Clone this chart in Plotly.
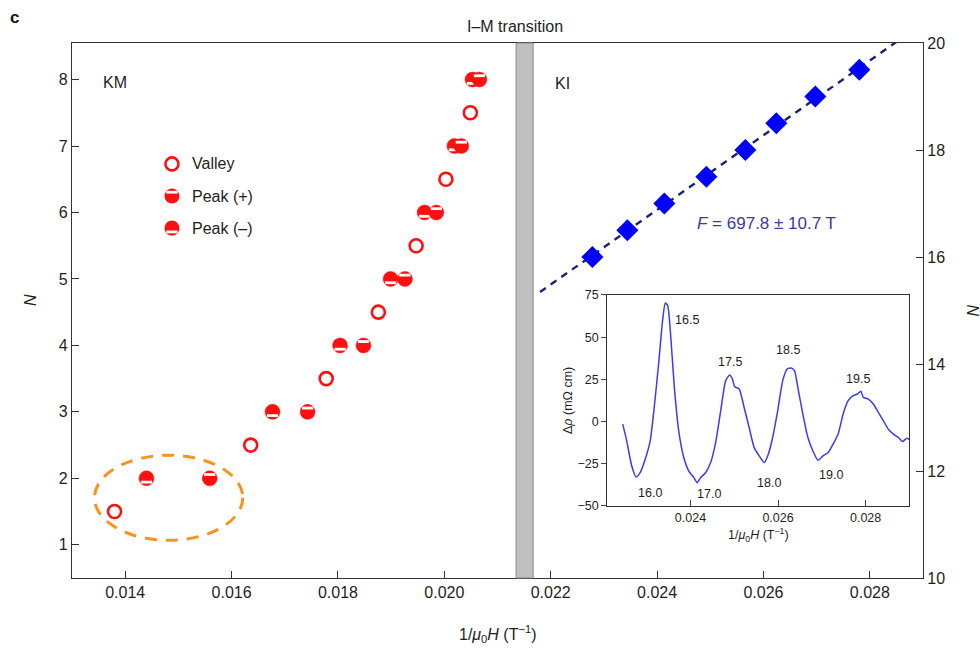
import numpy as np
import plotly.graph_objects as go

# ---- KM regime: Landau index N versus 1/mu0H ----
valley_x = [0.01380, 0.01636, 0.01778, 0.01876, 0.01947, 0.02003, 0.02049]
valley_n = [1.5, 2.5, 3.5, 4.5, 5.5, 6.5, 7.5]
peak_minus_x = [0.01440, 0.01677, 0.01804, 0.01899, 0.01963, 0.02019, 0.02053]
peak_minus_n = [2, 3, 4, 5, 6, 7, 8]
peak_plus_x = [0.01559, 0.01743, 0.01848, 0.01926, 0.01985, 0.02032, 0.02066]
peak_plus_n = [2, 3, 4, 5, 6, 7, 8]

# ---- KI regime ----
ki_x = [0.022784, 0.023442, 0.024137, 0.024927, 0.025660, 0.026242, 0.026976, 0.027803]
ki_n = [16, 16.5, 17, 17.5, 18, 18.5, 19, 19.5]
fit_F = 697.8
fit_F_err = 10.7
fit_x = [0.0218, 0.0290]

# ---- inset: oscillatory resistivity ----
osc_x = [0.022452, 0.022544, 0.022659, 0.022759, 0.022850, 0.022966, 0.023080, 0.023172,
         0.023272, 0.023364, 0.023425, 0.023479, 0.023556, 0.023632, 0.023732, 0.023847,
         0.023962, 0.024077, 0.024153, 0.024230, 0.024345, 0.024460, 0.024575, 0.024690,
         0.024805, 0.024897, 0.024958, 0.025011, 0.025111, 0.025226, 0.025340, 0.025456,
         0.025570, 0.025686, 0.025778, 0.025877, 0.025992, 0.026107, 0.026207, 0.026299,
         0.026375, 0.026452, 0.026567, 0.026682, 0.026797, 0.026912, 0.027027, 0.027142,
         0.027257, 0.027372, 0.027487, 0.027602, 0.027716, 0.027816, 0.027893, 0.027946,
         0.028061, 0.028176, 0.028291, 0.028406, 0.028520, 0.028636, 0.028750, 0.028843,
         0.028943, 0.029042]
osc_y = [-1.6, -11.5, -26.4, -32.9, -30.4, -22.4, -11.5, 8.3,
         34.1, 59.9, 70.2, 68.8, 48.0, 20.2, -5.6, -21.4,
         -29.4, -33.3, -36.3, -33.3, -30.4, -24.4, -12.5, 6.3,
         24.2, 27.6, 25.2, 20.6, 19.2, 8.3, -3.6, -15.5,
         -20.4, -24.4, -19.4, -9.5, 6.3, 24.2, 31.1, 31.7,
         30.2, 20.2, 4.4, -9.5, -17.5, -23.0, -20.4, -18.5,
         -13.5, -7.5, 4.4, 12.3, 15.3, 16.3, 17.9, 14.3,
         13.3, 10.3, 5.4, 0.4, -4.6, -7.5, -9.5, -11.9,
         -9.9, -11.5]
osc_labels = ["16.5", "17.5", "18.5", "19.5", "16.0", "17.0", "18.0", "19.0"]
osc_label_x = [0.02392, 0.02490, 0.02622, 0.02783, 0.02308, 0.02442, 0.02580, 0.02722]
osc_label_y = [59.9, 35.5, 42.1, 25.2, -42.3, -42.9, -36.3, -31.7]

# ---- axes ----
X_RANGE = [0.013, 0.029]
N_RANGE = [0.5, 8.55]
N2_RANGE = [10, 20]
x_ticks = [0.014, 0.016, 0.018, 0.020, 0.022, 0.024, 0.026, 0.028]

W, H = 980, 649
M = dict(l=72, r=57, t=43, b=71)
plot_h = H - M["t"] - M["b"]
n_per_px = (N_RANGE[1] - N_RANGE[0]) / plot_h

FONT = "Liberation Sans, Arial, Helvetica, sans-serif"
INK = "#1e1e1e"
RED = "#ff1010"
BLUE = "#0000ff"
SLIVER_PX = 3.8

fig = go.Figure()

# valley: open circles
fig.add_trace(go.Scatter(
    x=valley_x, y=valley_n, mode="markers", name="Valley",
    marker=dict(symbol="circle-open", size=13, color=RED, line=dict(width=2.6, color=RED)),
    showlegend=False))


def peak_trace(xs, ns, sign):
    """Filled circle with a small white crescent above (+) or below (-) the centre."""
    fig.add_trace(go.Scatter(
        x=xs, y=ns, mode="markers",
        marker=dict(symbol="circle", size=15, color=RED, line=dict(width=0.5, color=RED)),
        showlegend=False))
    fig.add_trace(go.Scatter(
        x=xs, y=[n + sign * SLIVER_PX * n_per_px for n in ns], mode="markers",
        marker=dict(symbol="line-ew", size=8, line=dict(width=2.8, color="white")),
        showlegend=False))


peak_trace(peak_minus_x, peak_minus_n, -1)
peak_trace(peak_plus_x, peak_plus_n, +1)

# KI: linear fit and data
ki_b = float(np.mean(np.array(ki_n) - fit_F * np.array(ki_x)))
fig.add_trace(go.Scatter(
    x=fit_x, y=[fit_F * v + ki_b for v in fit_x], mode="lines", yaxis="y2",
    line=dict(color="#1f1f7a", width=2.4, dash="7px,6px"), showlegend=False))
fig.add_trace(go.Scatter(
    x=ki_x, y=ki_n, mode="markers", yaxis="y2",
    marker=dict(symbol="diamond", size=17, color=BLUE, line=dict(width=0)),
    showlegend=False))

# inset curve
fig.add_trace(go.Scatter(
    x=osc_x, y=osc_y, mode="lines", xaxis="x3", yaxis="y3",
    line=dict(color="#3b3bf5", width=1.5, shape="spline", smoothing=0.6), showlegend=False))

# key drawn on an overlay unit axis
key_y = [0.774, 0.714, 0.654]
key_x = 0.1175
fig.add_trace(go.Scatter(
    x=[key_x], y=[key_y[0]], mode="markers", xaxis="x4", yaxis="y4",
    marker=dict(symbol="circle-open", size=13, color=RED, line=dict(width=2.6, color=RED)),
    showlegend=False))
fig.add_trace(go.Scatter(
    x=[key_x, key_x], y=key_y[1:], mode="markers", xaxis="x4", yaxis="y4",
    marker=dict(symbol="circle", size=15, color=RED), showlegend=False))
unit_per_px = 1.0 / plot_h
fig.add_trace(go.Scatter(
    x=[key_x, key_x],
    y=[key_y[1] + SLIVER_PX * unit_per_px, key_y[2] - SLIVER_PX * unit_per_px],
    mode="markers", xaxis="x4", yaxis="y4",
    marker=dict(symbol="line-ew", size=8, line=dict(width=2.8, color="white")),
    showlegend=False))


def label(x, y, text, size=16, color=INK, xref="paper", yref="paper", **kw):
    d = dict(x=x, y=y, xref=xref, yref=yref, text=text, showarrow=False,
             xanchor="center", yanchor="middle",
             font=dict(size=size, color=color, family=FONT))
    d.update(kw)
    return d


annotations = []
for txt, yy in zip(["Valley", "Peak (+)", "Peak (–)"], key_y):
    annotations.append(label(0.1386, yy, txt, xanchor="left"))
for txt, xx, yy in zip(osc_labels, osc_label_x, osc_label_y):
    annotations.append(label(xx, yy, txt, size=12.5, xref="x3", yref="y3"))
annotations += [
    label(0.0505, 0.927, "KM"),
    label(0.5758, 0.925, "KI"),
    label(0.02605, 16.62, f"<i>F</i> = {fit_F} ± {fit_F_err} T", size=17,
          color="#3a3aa8", xref="x", yref="y2"),
    label(0.5206, 1.03, "I–M transition"),
    label(-0.068, 1.047, "<b>c</b>", size=17, color="#111"),
    label(-0.049, 0.52, "<i>N</i>", textangle=-90),
    label(1.0576, 0.50, "<i>N</i>", textangle=90),
    label(0.5, -0.105, "1/<i>μ</i><sub>0</sub><i>H</i> (T<sup>−1</sup>)"),
]

shapes = [
    # I-M transition band
    dict(type="rect", xref="x", yref="paper", x0=0.02135, x1=0.02167, y0=0, y1=1,
         fillcolor="#c0c0c0", line=dict(color="#8a8a8a", width=1), layer="above"),
    # highlighted low-field points
    dict(type="circle", xref="x", yref="y", x0=0.013423, x1=0.016211, y0=1.068, y1=2.348,
         line=dict(color="#f7931e", width=3, dash="12px,9px"), layer="below"),
]

axis_common = dict(showgrid=False, zeroline=False, showline=True, linecolor="#333",
                   linewidth=1.3, ticks="inside", ticklen=7, tickcolor="#333",
                   tickfont=dict(size=16, color=INK, family=FONT))

fig.update_layout(
    width=W, height=H, margin=M, paper_bgcolor="white", plot_bgcolor="white",
    font=dict(family=FONT, color=INK),
    xaxis=dict(range=X_RANGE, tickvals=x_ticks, ticktext=[f"{v:.3f}" for v in x_ticks],
               mirror=True, **axis_common),
    yaxis=dict(range=N_RANGE, tickvals=list(range(1, 9)), mirror=True, **axis_common),
    yaxis2=dict(range=N2_RANGE, tickvals=list(range(10, 21, 2)), overlaying="y",
                side="right", anchor="x", **axis_common),
    xaxis3=dict(domain=[0.629, 0.984], anchor="y3", range=[0.0221, 0.0290],
                tickvals=[0.024, 0.026, 0.028], ticktext=["0.024", "0.026", "0.028"],
                showgrid=False, zeroline=False, showline=True, mirror=True,
                linecolor="#333", linewidth=1.2, ticks="inside", ticklen=6,
                tickfont=dict(size=12.5, color=INK, family=FONT),
                title=dict(text="1/<i>μ</i><sub>0</sub><i>H</i> (T<sup>−1</sup>)",
                           font=dict(size=12.5, color=INK, family=FONT), standoff=6)),
    yaxis3=dict(domain=[0.135, 0.529], anchor="x3", range=[-50, 75],
                tickvals=[-50, -25, 0, 25, 50, 75],
                ticktext=["−50", "−25", "0", "25", "50", "75"],
                showgrid=False, zeroline=False, showline=True, mirror=True,
                linecolor="#333", linewidth=1.2, ticks="outside", ticklen=5,
                tickfont=dict(size=12.5, color=INK, family=FONT),
                title=dict(text="Δ<i>ρ</i> (mΩ cm)",
                           font=dict(size=12.5, color=INK, family=FONT), standoff=2)),
    xaxis4=dict(overlaying="x", range=[0, 1], visible=False, anchor="y4"),
    yaxis4=dict(overlaying="y", range=[0, 1], visible=False, anchor="x4"),
    annotations=annotations, shapes=shapes,
)

fig.write_html("out.html")
